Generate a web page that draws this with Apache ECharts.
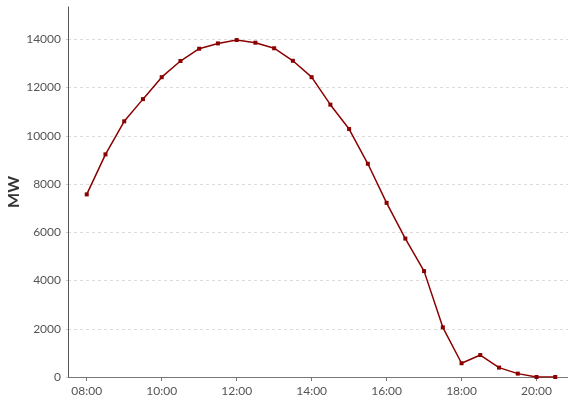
<!DOCTYPE html>
<html>
<head>
<meta charset="utf-8">
<script src="https://cdn.jsdelivr.net/npm/echarts@6/dist/echarts.min.js"></script>
<style>
    html, body { margin: 0; padding: 0; background: #fff; }
    #chart { width: 568px; height: 405px; }
</style>
</head>
<body>
<div id="chart"></div>
<script>
// half-hour slots, with one empty slot padded on each side of the data
var times = ['07:30', '08:00', '08:30', '09:00', '09:30', '10:00', '10:30', '11:00', '11:30',
    '12:00', '12:30', '13:00', '13:30', '14:00', '14:30', '15:00', '15:30', '16:00', '16:30',
    '17:00', '17:30', '18:00', '18:30', '19:00', '19:30', '20:00', '20:30', '21:00'];

// MW from 08:00 to 20:30
var power = [7570, 9230, 10600, 11520, 12430, 13100, 13610, 13830, 13970,
    13860, 13630, 13110, 12430, 11290, 10280, 8840, 7220, 5740,
    4390, 2060, 570, 910, 390, 140, 0, 0];

var yTicks = [0, 2000, 4000, 6000, 8000, 10000, 12000, 14000];

function buildSeriesData() {
    var out = ['-'];
    for (var i = 0; i < power.length; i++) {
        out.push(power[i]);
    }
    out.push('-');
    return out;
}

function isLabelSlot(index, value) {
    return value.slice(3) === '00' && parseInt(value, 10) % 2 === 0;
}

var myChart = echarts.init(document.getElementById('chart'));

myChart.setOption({
    animation: false,
    textStyle: { fontFamily: 'Lato' },
    grid: {
        left: 68,
        right: -6,
        top: 7,
        bottom: 28,
        containLabel: false,
        outerBoundsMode: 'none'
    },
    xAxis: {
        type: 'category',
        data: times,
        boundaryGap: false,
        axisLine: { lineStyle: { color: '#777', width: 1 } },
        axisTick: {
            interval: isLabelSlot,
            length: 4,
            lineStyle: { color: '#777' }
        },
        axisLabel: {
            interval: isLabelSlot,
            margin: 8,
            color: '#555',
            fontSize: 12,
            fontFamily: 'Lato'
        },
        splitLine: { show: false }
    },
    yAxis: {
        type: 'value',
        min: yTicks[0],
        max: 15340,
        interval: 2000,
        name: 'MW',
        nameLocation: 'middle',
        nameGap: 46,
        nameMoveOverlap: false,
        nameTextStyle: {
            fontSize: 16,
            fontWeight: 'bold',
            color: '#333',
            fontFamily: 'Lato'
        },
        axisLine: { show: true, lineStyle: { color: '#555', width: 1 } },
        axisTick: { show: true, length: 2, lineStyle: { color: '#ccc' } },
        axisLabel: {
            margin: 7,
            color: '#555',
            fontSize: 12,
            fontFamily: 'Lato',
            showMaxLabel: false,
            formatter: function (v) { return String(v); }
        },
        splitLine: {
            show: true,
            showMaxLine: false,
            showMinLine: false,
            lineStyle: { color: '#ddd', type: [3, 3], width: 1 }
        }
    },
    series: [
        {
            name: 'MW',
            type: 'line',
            data: buildSeriesData(),
            symbol: 'rect',
            symbolSize: 4,
            showAllSymbol: true,
            lineStyle: { color: '#8b0000', width: 1.5 },
            itemStyle: { color: '#8b0000' }
        }
    ]
});
</script>
</body>
</html>
